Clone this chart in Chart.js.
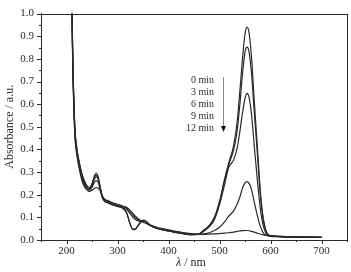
<!DOCTYPE html>
<html>
<head>
<meta charset="utf-8">
<script src="https://cdn.jsdelivr.net/npm/chart.js@4"></script>
<style>
  html, body { margin: 0; padding: 0; background: #fff; }
  #wrap { width: 351px; height: 272px; }
</style>
</head>
<body>
<div id="wrap"><canvas id="myChart" width="351" height="272"></canvas></div>
<script>
// wavelength (nm)
const lambda = [205, 209, 212, 216, 220, 225, 230, 235, 240, 245, 250, 255, 258, 262, 266, 270, 275, 280, 290, 300,
  310, 318, 325, 330, 335, 342, 350, 355, 362, 370, 380, 400, 420, 440, 458, 470, 480, 490, 500, 510,
  518, 528, 535, 540, 545, 550, 554, 558, 563, 568, 574, 580, 585, 590, 595, 600, 620, 650, 700];

const t0 = [2.2, 1.3, 0.85, 0.52, 0.41, 0.345, 0.295, 0.262, 0.24, 0.232, 0.25, 0.285, 0.296, 0.28, 0.235, 0.195, 0.175, 0.17, 0.158, 0.15,
  0.142, 0.12, 0.07, 0.048, 0.05, 0.07, 0.088, 0.085, 0.07, 0.058, 0.05, 0.04, 0.032, 0.024, 0.025, 0.045, 0.065, 0.10, 0.17, 0.27,
  0.34, 0.42, 0.53, 0.66, 0.80, 0.91, 0.94, 0.915, 0.80, 0.62, 0.42, 0.22, 0.11, 0.05, 0.025, 0.02, 0.016, 0.014, 0.012];

const t3 = [2.2, 1.3, 0.84, 0.51, 0.405, 0.34, 0.29, 0.258, 0.236, 0.228, 0.245, 0.278, 0.288, 0.274, 0.232, 0.19, 0.17, 0.165, 0.155, 0.148,
  0.14, 0.118, 0.068, 0.046, 0.048, 0.068, 0.086, 0.084, 0.07, 0.058, 0.05, 0.04, 0.032, 0.024, 0.025, 0.044, 0.064, 0.098, 0.165, 0.262,
  0.332, 0.40, 0.49, 0.60, 0.73, 0.83, 0.852, 0.83, 0.73, 0.57, 0.39, 0.20, 0.10, 0.045, 0.024, 0.02, 0.016, 0.014, 0.012];

const t6 = [2.2, 1.28, 0.83, 0.50, 0.40, 0.335, 0.285, 0.253, 0.232, 0.225, 0.24, 0.27, 0.28, 0.268, 0.23, 0.19, 0.172, 0.168, 0.157, 0.15,
  0.143, 0.135, 0.115, 0.10, 0.09, 0.083, 0.08, 0.076, 0.068, 0.06, 0.052, 0.042, 0.035, 0.028, 0.025, 0.04, 0.058, 0.09, 0.155, 0.245,
  0.32, 0.355, 0.41, 0.48, 0.56, 0.625, 0.648, 0.63, 0.55, 0.42, 0.27, 0.14, 0.07, 0.035, 0.02, 0.018, 0.015, 0.013, 0.012];

const t9 = [2.2, 1.27, 0.82, 0.49, 0.39, 0.325, 0.275, 0.245, 0.228, 0.22, 0.232, 0.255, 0.262, 0.255, 0.225, 0.19, 0.175, 0.17, 0.16, 0.153,
  0.148, 0.145, 0.13, 0.118, 0.105, 0.092, 0.082, 0.076, 0.068, 0.06, 0.054, 0.045, 0.036, 0.029, 0.025, 0.027, 0.032, 0.042, 0.056, 0.08,
  0.105, 0.13, 0.16, 0.19, 0.228, 0.252, 0.258, 0.25, 0.22, 0.17, 0.11, 0.06, 0.035, 0.022, 0.018, 0.016, 0.014, 0.013, 0.012];

const t12 = [2.2, 1.25, 0.80, 0.48, 0.38, 0.315, 0.265, 0.235, 0.222, 0.215, 0.22, 0.228, 0.232, 0.23, 0.218, 0.195, 0.18, 0.175, 0.165, 0.158,
  0.15, 0.14, 0.125, 0.11, 0.098, 0.088, 0.08, 0.075, 0.066, 0.058, 0.05, 0.04, 0.03, 0.026, 0.025, 0.025, 0.026, 0.027, 0.028, 0.03,
  0.032, 0.035, 0.038, 0.04, 0.041, 0.042, 0.042, 0.041, 0.038, 0.035, 0.03, 0.026, 0.023, 0.021, 0.02, 0.018, 0.015, 0.013, 0.012];

const seriesLabels = ["0 min", "3 min", "6 min", "9 min", "12 min"];
const allSeries = [t0, t3, t6, t9, t12];

const xTicks = [200, 300, 400, 500, 600, 700];
const yTicks = [0.0, 0.1, 0.2, 0.3, 0.4, 0.5, 0.6, 0.7, 0.8, 0.9, 1.0];

const serif = "'Liberation Serif', 'DejaVu Serif', serif";
const ink = '#2a2a2a';

// frame, minor ticks, axis titles and the time annotation
const decorations = {
  id: 'decorations',
  afterDraw(chart) {
    const { ctx, chartArea: a, scales } = chart;
    const x = scales.x, y = scales.y;
    ctx.save();
    ctx.strokeStyle = ink;
    ctx.lineWidth = 1;
    ctx.strokeRect(Math.round(a.left) + 0.5, Math.round(a.top) + 0.5, Math.round(a.right - a.left), Math.round(a.bottom - a.top));

    ctx.beginPath();
    for (let v = 0; v <= 1.0001; v += 0.05) {
      const py = Math.round(y.getPixelForValue(v)) + 0.5;
      const major = Math.abs(v * 10 - Math.round(v * 10)) < 0.01;
      ctx.moveTo(a.left, py);
      ctx.lineTo(a.left - (major ? 4 : 2), py);
    }
    for (let v = 150; v <= 750; v += 50) {
      const px = Math.round(x.getPixelForValue(v)) + 0.5;
      const major = v % 100 === 0;
      ctx.moveTo(px, a.bottom);
      ctx.lineTo(px, a.bottom + (major ? 4 : 2));
    }
    ctx.stroke();

    ctx.fillStyle = ink;
    ctx.textBaseline = 'middle';

    // y title
    ctx.save();
    ctx.translate(10, (a.top + a.bottom) / 2);
    ctx.rotate(-Math.PI / 2);
    ctx.textAlign = 'center';
    ctx.font = '12px ' + serif;
    ctx.fillText('Absorbance / a.u.', 0, 0);
    ctx.restore();

    // x title: italic lambda
    const l = 'λ';
    ctx.font = '12px ' + serif;
    const rest = ' / nm';
    const wRest = ctx.measureText(rest).width;
    ctx.font = 'italic 12px ' + serif;
    const wL = ctx.measureText(l).width;
    const cx = x.getPixelForValue(450) - 3;
    const startX = cx - (wL + wRest) / 2;
    ctx.textAlign = 'left';
    ctx.fillText(l, startX, 263);
    ctx.font = '12px ' + serif;
    ctx.fillText(rest, startX + wL, 263);

    // annotation
    ctx.font = '10px ' + serif;
    ctx.textAlign = 'right';
    seriesLabels.forEach((s, i) => {
      ctx.fillText(s, 214, 80 + i * 12);
    });
    ctx.strokeStyle = '#888';
    ctx.beginPath();
    ctx.moveTo(223.5, 77);
    ctx.lineTo(223.5, 127);
    ctx.stroke();
    ctx.fillStyle = '#111';
    ctx.beginPath();
    ctx.moveTo(221, 126);
    ctx.lineTo(226, 126);
    ctx.lineTo(223.5, 132);
    ctx.closePath();
    ctx.fill();
    ctx.restore();
  }
};

const ctx = document.getElementById('myChart');

new Chart(ctx, {
  type: 'line',
  plugins: [decorations],
  data: {
    datasets: allSeries.map((vals, i) => ({
      label: seriesLabels[i],
      data: lambda.map((w, j) => ({ x: w, y: vals[j] })),
      borderColor: ink,
      borderWidth: 1.2,
      pointRadius: 0,
      fill: false,
      cubicInterpolationMode: 'monotone',
    })),
  },
  options: {
    responsive: false,
    animation: false,
    layout: { padding: { top: 10, right: 4, left: 0, bottom: 0 } },
    plugins: {
      legend: { display: false },
      tooltip: { enabled: false },
    },
    scales: {
      x: {
        type: 'linear',
        min: 150,
        max: 750,
        afterBuildTicks: (s) => { s.ticks = xTicks.map(v => ({ value: v })); },
        afterFit: (s) => { s.height = 32; },
        grid: { display: false, drawTicks: false },
        border: { display: true, color: ink },
        ticks: {
          padding: 5,
          color: ink,
          maxRotation: 0,
          font: { family: serif, size: 11 },
          callback: (v) => String(v),
        },
      },
      y: {
        min: 0,
        max: 1,
        afterBuildTicks: (s) => { s.ticks = yTicks.map(v => ({ value: v })); },
        afterFit: (s) => { s.width = 41; },
        grid: { display: false, drawTicks: false },
        border: { display: true, color: ink },
        ticks: {
          padding: 7,
          color: ink,
          font: { family: serif, size: 11 },
          callback: (v) => v.toFixed(1),
        },
      },
    },
  },
});
</script>
</body>
</html>
